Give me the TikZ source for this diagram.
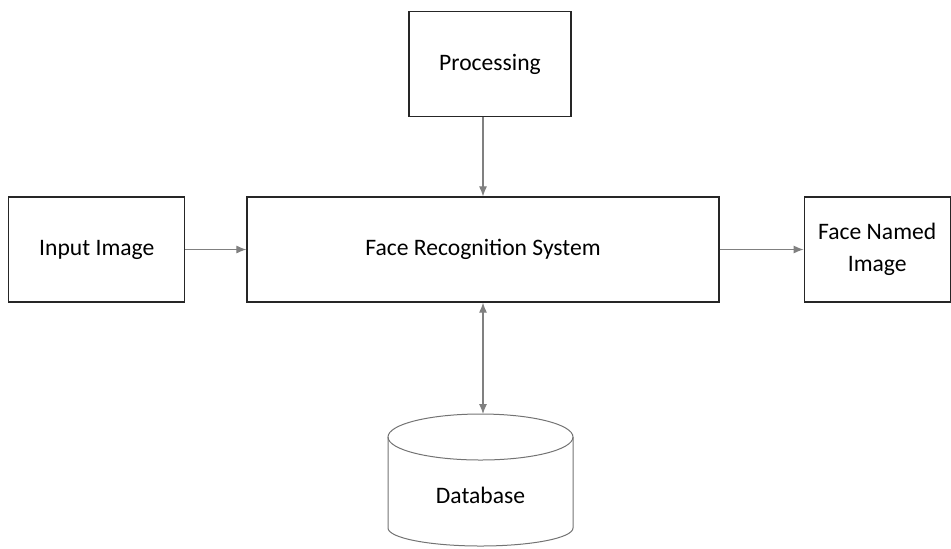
\documentclass[tikz,border=0pt]{standalone}
\usepackage{fontspec}
\setmainfont{Carlito}
\usepackage{tikz}
\usetikzlibrary{positioning,arrows.meta,calc}

\begin{document}
\begin{tikzpicture}[boxnode/.style={rectangle, draw=black!85, line width=0.6pt, minimum height=52.5pt, align=center, font=\fontsize{11.8}{16}\selectfont},
        arr/.style={draw=black!50, line width=0.55pt, -{Latex[length=5pt,width=4pt]}}]
        
        \useasboundingbox (-241.5pt,124.75pt) rectangle (234pt,-149.25pt);

        \node[boxnode, minimum width=236pt] (frs) at (0,0) {Face Recognition System};
        \node[boxnode, minimum width=88pt] (input) [left=30.5pt of frs] {Input Image};
        \node[boxnode, minimum width=73pt] (named) [right=42pt of frs] {Face Named\\Image};
        \node[boxnode, minimum width=81pt] (proc) [above=39.5pt of frs, xshift=3.5pt] {Processing};

        % database cylinder
        \node[font=\fontsize{11.8}{16}\selectfont] (db) at (-1.25pt,-122.75pt) {Database};
        \coordinate (dbtop) at ($(db.center)+(0,40.5pt)$);
        \draw[black!55, line width=0.5pt] ($(db.center)+(0,29pt)$) ellipse [x radius=46.25pt, y radius=11.5pt];
        \draw[black!55, line width=0.5pt] ($(db.center)+(-46.25pt,29pt)$) -- ($(db.center)+(-46.25pt,-16.5pt)$)
            arc [start angle=180, end angle=360, x radius=46.25pt, y radius=9pt]
            -- ($(db.center)+(46.25pt,29pt)$);

        \draw[arr] (input) -- (frs);
        \draw[arr] (frs) -- (named);
        \draw[arr] (proc.south -| frs.north) -- (frs.north);
        \draw[arr, {Latex[length=5pt,width=4pt]}-{Latex[length=5pt,width=4pt]}] (frs.south) -- (frs.south |- dbtop);

        \end{tikzpicture}
\end{document}
